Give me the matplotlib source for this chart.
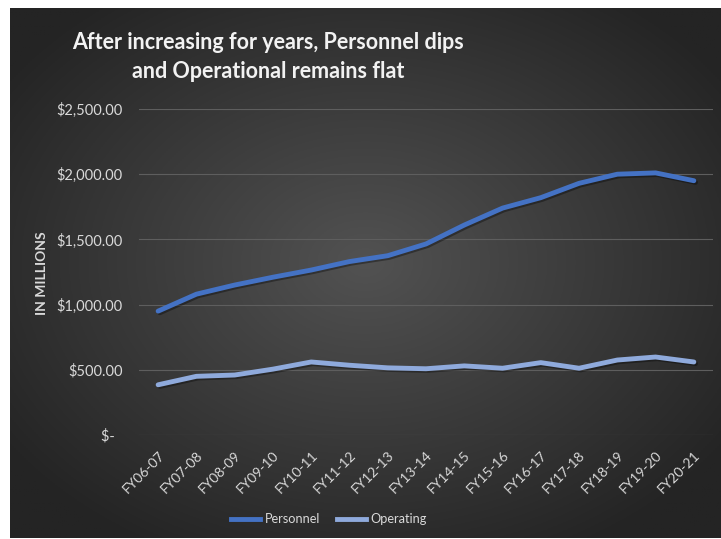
import numpy as np
import matplotlib
matplotlib.use("Agg")
import matplotlib.pyplot as plt
import matplotlib.patheffects as pe
from matplotlib.lines import Line2D

categories = ["FY06-07", "FY07-08", "FY08-09", "FY09-10", "FY10-11", "FY11-12", "FY12-13",
              "FY13-14", "FY14-15", "FY15-16", "FY16-17", "FY17-18", "FY18-19", "FY19-20", "FY20-21"]
personnel = [950, 1080, 1150, 1210, 1265, 1330, 1375, 1465, 1610, 1740, 1820, 1930, 2000, 2010, 1950]
operating = [385, 450, 460, 505, 560, 535, 515, 508, 530, 512, 555, 512, 575, 598, 560]
yticks = [0, 500, 1000, 1500, 2000, 2500]
ytick_labels = ["$-  ", "$500.00", "$1,000.00", "$1,500.00", "$2,000.00", "$2,500.00"]

W, H = 721, 539
fig = plt.figure(figsize=(W / 100, H / 100), dpi=100)
fig.patch.set_facecolor("white")

# background panel with radial gradient
bg = fig.add_axes([10 / W, 1 / H, 711 / W, 530 / H])
bg.set_axis_off()
nx, ny = 360, 270
xx, yy = np.meshgrid(np.linspace(0, 1, nx), np.linspace(0, 1, ny))
d = np.sqrt(((xx - 0.5) / 0.62) ** 2 + ((yy - 0.52) / 0.62) ** 2)
d = np.clip(d, 0, 1)
inner = np.array([0x52, 0x52, 0x52]) / 255
outer = np.array([0x24, 0x24, 0x24]) / 255
img = inner[None, None, :] * (1 - d[..., None]) + outer[None, None, :] * d[..., None]
bg.imshow(img, aspect="auto", extent=[0, 1, 0, 1], origin="lower")
bg.set_xlim(0, 1)
bg.set_ylim(0, 1)

ax = fig.add_axes([139 / W, 1 - 435 / H, 574 / W, 326 / H])
ax.patch.set_alpha(0)
x = np.arange(len(categories))
shadow = [pe.SimpleLineShadow(offset=(1.2, -1.2), shadow_color="black", alpha=0.35), pe.Normal()]
ax.plot(x, personnel, color="#4472C4", lw=3.5, solid_capstyle="round", solid_joinstyle="round",
        path_effects=shadow, label="Personnel", zorder=3)
ax.plot(x, operating, color="#8FAADC", lw=3.5, solid_capstyle="round", solid_joinstyle="round",
        path_effects=shadow, label="Operating", zorder=3)

ax.set_xlim(-0.5, len(categories) - 0.5)
ax.set_ylim(0, 2500)
ax.set_yticks(yticks)
ax.set_yticklabels(ytick_labels)
ax.yaxis.grid(True, color="#5e5e5e", lw=0.8)
ax.set_axisbelow(True)
for s in ax.spines.values():
    s.set_visible(False)
ax.tick_params(axis="both", length=0, colors="#d9d9d9")
ax.tick_params(axis="y", pad=12)
font = "Lato"
for lab in ax.get_yticklabels():
    lab.set_fontfamily(font)
    lab.set_fontsize(10.5)
    lab.set_color("#d9d9d9")
ax.set_xticks(x)
ax.set_xticklabels(categories, rotation=45, ha="right", va="top", rotation_mode="anchor",
                   fontsize=10, fontfamily=font, color="#d9d9d9")
ax.tick_params(axis="x", pad=10)

fig.text(42 / W, 1 - 273 / H, "IN MILLIONS", rotation=90, ha="center", va="center",
         fontsize=10, fontweight="bold", color="#d9d9d9", fontfamily=font)

fig.text(268 / W, 1 - 57 / H, "After increasing for years, Personnel dips\nand Operational remains flat",
         ha="center", va="center", fontsize=15.5, fontweight="bold", color="#f2f2f2",
         fontfamily=font, linespacing=1.45)

handles = [Line2D([0], [0], color="#4472C4", lw=3.5), Line2D([0], [0], color="#8FAADC", lw=3.5)]
leg = fig.legend(handles, ["Personnel", "Operating"], loc="center", bbox_to_anchor=(329 / W, 1 - 519 / H),
                 ncol=2, frameon=False, handlelength=2.3, columnspacing=1.3, handletextpad=0.35,
                 prop={"family": font, "size": 9.2})
for t in leg.get_texts():
    t.set_color("#d9d9d9")

fig.savefig("out.png", dpi=100, facecolor=fig.get_facecolor())
